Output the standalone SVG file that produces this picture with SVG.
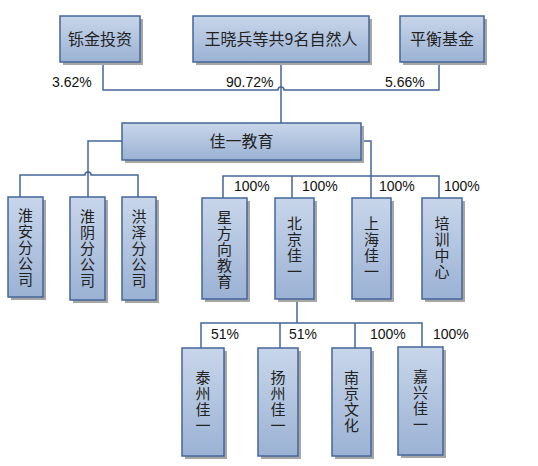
<svg xmlns="http://www.w3.org/2000/svg" width="538" height="466" viewBox="0 0 538 466">
<defs>
<linearGradient id="g" x1="0" y1="0" x2="0" y2="1">
<stop offset="0" stop-color="#c8d6ea"/>
<stop offset="1" stop-color="#9bb2d4"/>
</linearGradient>
<style>
.sh{fill:#a6a6a6;}
.bx{fill:url(#g);stroke:#44659a;stroke-width:1.5;}
.t{font-family:"Noto Sans CJK SC","Liberation Sans",sans-serif;font-size:15px;fill:#222;text-anchor:middle;}
.v{font-family:"Noto Sans CJK SC","Liberation Sans",sans-serif;font-size:15px;fill:#222;text-anchor:middle;writing-mode:vertical-rl;letter-spacing:1px;}
.p{font-family:"Liberation Sans","Noto Sans",sans-serif;font-size:14px;fill:#111;}
.c{fill:none;stroke:#44659a;stroke-width:1.5;}
</style>
</defs>
<rect width="538" height="466" fill="#fff"/>
<g id="connectors">
<path class="c" d="M103,62 V90 H278 a3,3 0 0 1 6,0 H439 V63"/>
<path class="c" d="M281,62 V123"/>
<path class="c" d="M122,141 H88 V197"/>
<path class="c" d="M20,197 V175 H85 a3,3 0 0 1 6,0 H138 V197"/>
<path class="c" d="M361,141 H371 V198"/>
<path class="c" d="M223,198 V176 H439 V198"/>
<path class="c" d="M292,176 V198"/>
<path class="c" d="M297,299 V323"/>
<path class="c" d="M201,348 V323 H422 V347"/>
<path class="c" d="M280,323 V348"/>
<path class="c" d="M355,323 V348"/>
</g>
<g id="labels">
<text class="p" x="52" y="87">3.62%</text>
<text class="p" x="226" y="87">90.72%</text>
<text class="p" x="385" y="87">5.66%</text>
<text class="p" x="234" y="191">100%</text>
<text class="p" x="302" y="191">100%</text>
<text class="p" x="379" y="191">100%</text>
<text class="p" x="444" y="191">100%</text>
<text class="p" x="211" y="339">51%</text>
<text class="p" x="289" y="339">51%</text>
<text class="p" x="370" y="339">100%</text>
<text class="p" x="433" y="339">100%</text>
</g>
<g id="n_shujin">
<rect class="sh" x="63" y="19" width="80" height="46"/>
<rect class="bx" x="60" y="16" width="80" height="46"/>
<text class="t" x="100" y="45" style="font-size:16px">铄金投资</text>
</g>
<g id="n_wang">
<rect class="sh" x="196" y="19" width="176" height="46"/>
<rect class="bx" x="193" y="16" width="176" height="46"/>
<text class="t" x="281" y="45" style="font-size:16px">王晓兵等共9名自然人</text>
</g>
<g id="n_pingheng">
<rect class="sh" x="403" y="19" width="84" height="46"/>
<rect class="bx" x="400" y="16" width="84" height="46"/>
<text class="t" x="442" y="45" style="font-size:16px">平衡基金</text>
</g>
<g id="n_jiayi">
<rect class="sh" x="125" y="126" width="239" height="37"/>
<rect class="bx" x="122" y="123" width="239" height="37"/>
<text class="t" x="241.5" y="147" style="font-size:16px">佳一教育</text>
</g>
<g id="n_huaian">
<rect class="sh" x="11" y="200" width="35" height="100"/>
<rect class="bx" x="8" y="197" width="35" height="100"/>
<text class="v" x="25.5" y="248">淮安分公司</text>
</g>
<g id="n_huaiyin">
<rect class="sh" x="73" y="200" width="35" height="103"/>
<rect class="bx" x="70" y="197" width="35" height="103"/>
<text class="v" x="87.5" y="249">淮阴分公司</text>
</g>
<g id="n_hongze">
<rect class="sh" x="125" y="200" width="34" height="103"/>
<rect class="bx" x="122" y="197" width="34" height="103"/>
<text class="v" x="139" y="249">洪泽分公司</text>
</g>
<g id="n_xingfangxiang">
<rect class="sh" x="205" y="201" width="45" height="101"/>
<rect class="bx" x="202" y="198" width="45" height="101"/>
<text class="v" x="224.5" y="250">星方向教育</text>
</g>
<g id="n_beijing">
<rect class="sh" x="278" y="201" width="39" height="101"/>
<rect class="bx" x="275" y="198" width="39" height="101"/>
<text class="v" x="294.5" y="248">北京佳一</text>
</g>
<g id="n_shanghai">
<rect class="sh" x="355" y="201" width="39" height="101"/>
<rect class="bx" x="352" y="198" width="39" height="101"/>
<text class="v" x="371.5" y="248">上海佳一</text>
</g>
<g id="n_peixun">
<rect class="sh" x="425" y="201" width="40" height="101"/>
<rect class="bx" x="422" y="198" width="40" height="101"/>
<text class="v" x="442" y="248">培训中心</text>
</g>
<g id="n_taizhou">
<rect class="sh" x="185" y="351" width="42" height="108"/>
<rect class="bx" x="182" y="348" width="42" height="108"/>
<text class="v" x="203" y="402">泰州佳一</text>
</g>
<g id="n_yangzhou">
<rect class="sh" x="261" y="351" width="40" height="108"/>
<rect class="bx" x="258" y="348" width="40" height="108"/>
<text class="v" x="278" y="402">扬州佳一</text>
</g>
<g id="n_nanjing">
<rect class="sh" x="335" y="351" width="39" height="108"/>
<rect class="bx" x="332" y="348" width="39" height="108"/>
<text class="v" x="351.5" y="402">南京文化</text>
</g>
<g id="n_jiaxing">
<rect class="sh" x="401" y="350" width="45" height="108"/>
<rect class="bx" x="398" y="347" width="45" height="108"/>
<text class="v" x="420.5" y="401">嘉兴佳一</text>
</g>
</svg>
